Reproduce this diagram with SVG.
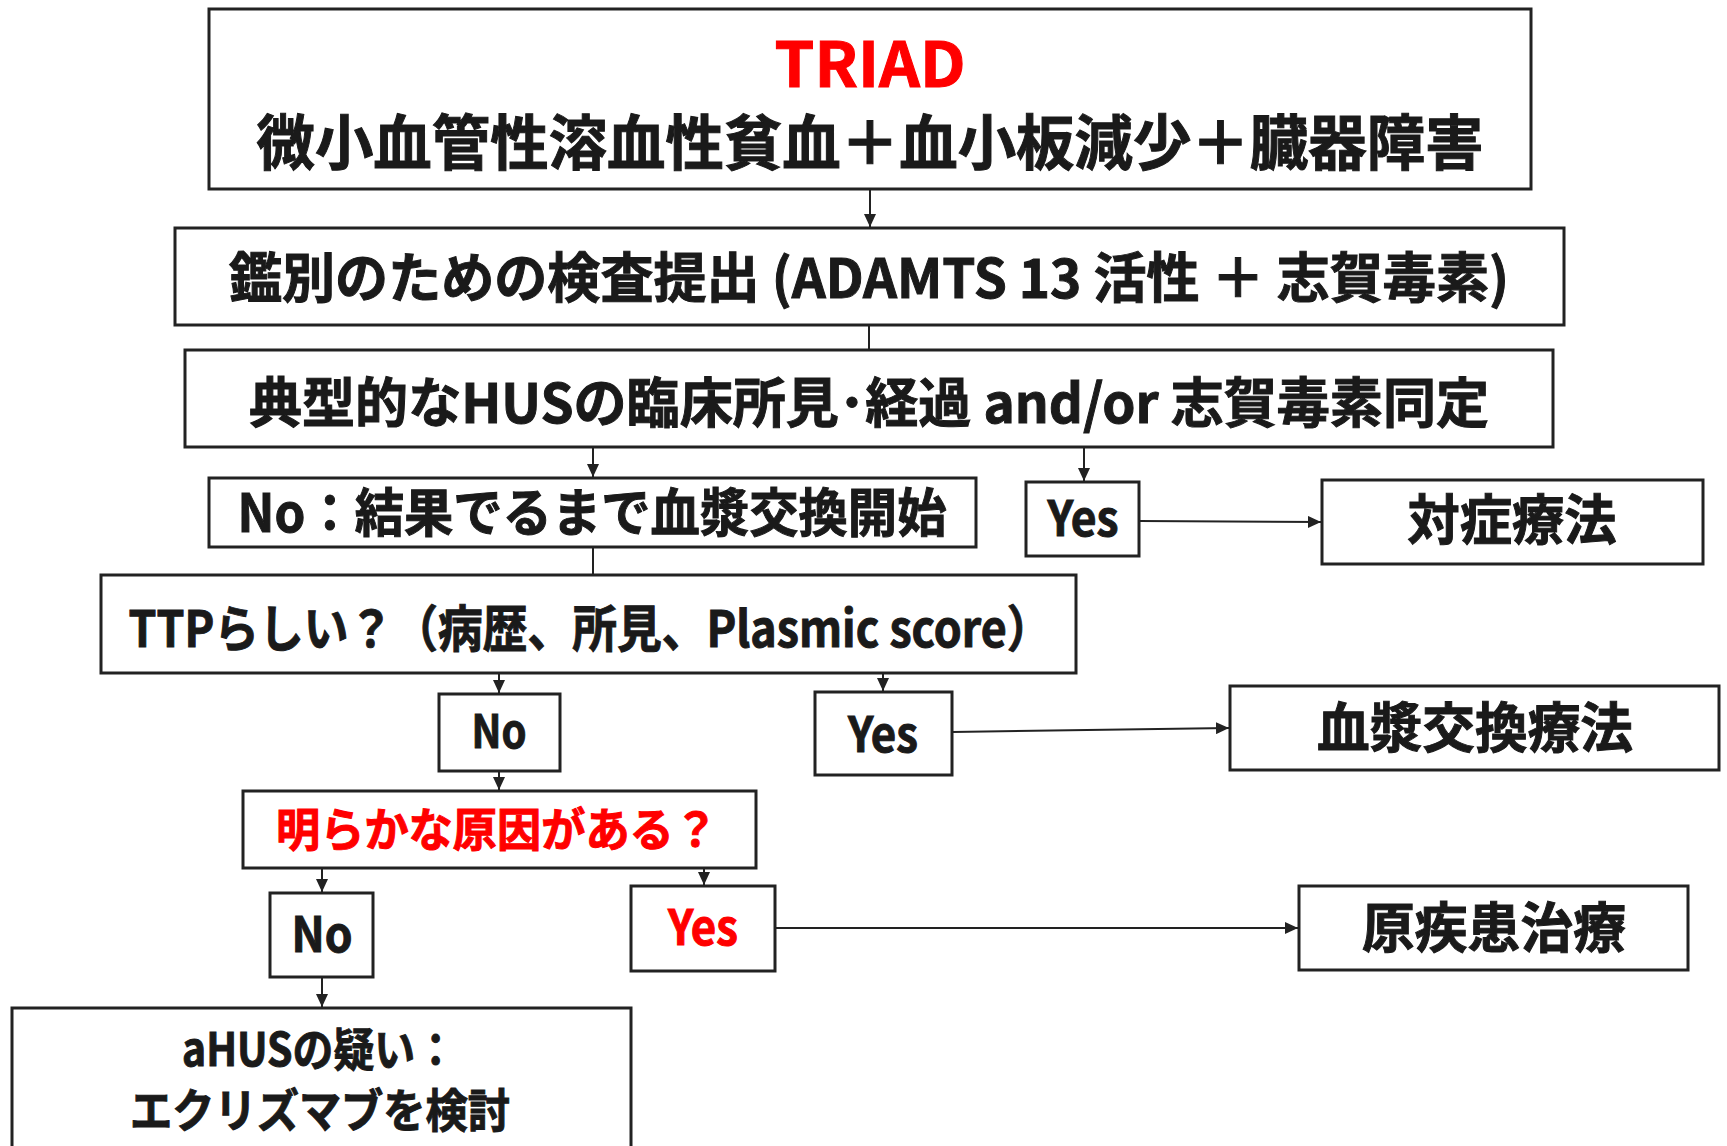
<svg xmlns="http://www.w3.org/2000/svg" width="1727" height="1146" viewBox="0 0 1727 1146">
<style>
.box{fill:#fff;stroke:#222;stroke-width:3}
.t{font-family:"Noto Sans CJK JP","Noto Sans",sans-serif;font-weight:bold;fill:#1a1a1a;stroke:#1a1a1a;stroke-width:1;text-anchor:middle;dominant-baseline:central}
.red{fill:#ff0000;stroke:#ff0000}
.c{stroke:#222;stroke-width:2;fill:none}
</style>
<defs>
<marker id="ah" markerUnits="userSpaceOnUse" markerWidth="14" markerHeight="12" refX="13" refY="6" orient="auto">
<path d="M0,0 L13,6 L0,12 z" fill="#222"/>
</marker>
</defs>
<rect width="1727" height="1146" fill="#fff"/>
<g id="connectors">
<line class="c" x1="870" y1="189" x2="870" y2="227" marker-end="url(#ah)"/>
<line class="c" x1="869" y1="325" x2="869" y2="350"/>
<line class="c" x1="593" y1="447" x2="593" y2="477" marker-end="url(#ah)"/>
<line class="c" x1="1084" y1="447" x2="1084" y2="481" marker-end="url(#ah)"/>
<line class="c" x1="1139" y1="521" x2="1321" y2="522" marker-end="url(#ah)"/>
<line class="c" x1="593" y1="547" x2="593" y2="575"/>
<line class="c" x1="499" y1="673" x2="499" y2="693" marker-end="url(#ah)"/>
<line class="c" x1="883" y1="673" x2="883" y2="691" marker-end="url(#ah)"/>
<line class="c" x1="952" y1="732" x2="1229" y2="728" marker-end="url(#ah)"/>
<line class="c" x1="499" y1="771" x2="499" y2="790" marker-end="url(#ah)"/>
<line class="c" x1="322" y1="868" x2="322" y2="892" marker-end="url(#ah)"/>
<line class="c" x1="704" y1="868" x2="704" y2="885" marker-end="url(#ah)"/>
<line class="c" x1="775" y1="928" x2="1298" y2="928" marker-end="url(#ah)"/>
<line class="c" x1="322" y1="977" x2="322" y2="1007" marker-end="url(#ah)"/>
</g>
<g id="triad">
<rect class="box" x="209" y="9" width="1322" height="180"/>
<text class="t red" x="870" y="60" font-size="62" textLength="191" lengthAdjust="spacingAndGlyphs">TRIAD</text>
<text class="t" x="870" y="138" font-size="60" textLength="1227" lengthAdjust="spacingAndGlyphs">微小血管性溶血性貧血＋血小板減少＋臓器障害</text>
</g>
<g id="test">
<rect class="box" x="175" y="228" width="1389" height="97"/>
<text class="t" x="869" y="274" font-size="54" textLength="1280" lengthAdjust="spacingAndGlyphs">鑑別のための検査提出 (ADAMTS 13 活性 ＋ 志賀毒素)</text>
</g>
<g id="typical">
<rect class="box" x="185" y="350" width="1368" height="97"/>
<text class="t" x="869" y="399" font-size="54" textLength="1240" lengthAdjust="spacingAndGlyphs">典型的なHUSの臨床所見･経過 and/or 志賀毒素同定</text>
</g>
<g id="no1">
<rect class="box" x="209" y="478" width="767" height="69"/>
<text class="t" x="592" y="509" font-size="52" textLength="709" lengthAdjust="spacingAndGlyphs">No：結果でるまで血漿交換開始</text>
</g>
<g id="yes1">
<rect class="box" x="1026" y="482" width="113" height="74"/>
<text class="t" x="1083" y="515" font-size="48" textLength="71" lengthAdjust="spacingAndGlyphs">Yes</text>
</g>
<g id="symptomatic">
<rect class="box" x="1322" y="480" width="381" height="84"/>
<text class="t" x="1512" y="516" font-size="54" textLength="209" lengthAdjust="spacingAndGlyphs">対症療法</text>
</g>
<g id="ttp">
<rect class="box" x="101" y="575" width="975" height="98"/>
<text class="t" x="590" y="625" font-size="50" textLength="923" lengthAdjust="spacingAndGlyphs">TTPらしい？（病歴、所見、Plasmic score）</text>
</g>
<g id="no2">
<rect class="box" x="439" y="694" width="121" height="77"/>
<text class="t" x="499" y="728" font-size="46" textLength="55" lengthAdjust="spacingAndGlyphs">No</text>
</g>
<g id="yes2">
<rect class="box" x="815" y="692" width="137" height="83"/>
<text class="t" x="883" y="731" font-size="48" textLength="70" lengthAdjust="spacingAndGlyphs">Yes</text>
</g>
<g id="plasma">
<rect class="box" x="1230" y="686" width="489" height="84"/>
<text class="t" x="1475" y="724" font-size="54" textLength="316" lengthAdjust="spacingAndGlyphs">血漿交換療法</text>
</g>
<g id="cause">
<rect class="box" x="243" y="791" width="513" height="77"/>
<text class="t red" x="497" y="826" font-size="46" textLength="442" lengthAdjust="spacingAndGlyphs">明らかな原因がある？</text>
</g>
<g id="no3">
<rect class="box" x="270" y="893" width="103" height="84"/>
<text class="t" x="322" y="931" font-size="48" textLength="61" lengthAdjust="spacingAndGlyphs">No</text>
</g>
<g id="yes3">
<rect class="box" x="631" y="886" width="144" height="85"/>
<text class="t red" x="703" y="924" font-size="48" textLength="70" lengthAdjust="spacingAndGlyphs">Yes</text>
</g>
<g id="primary">
<rect class="box" x="1299" y="886" width="389" height="84"/>
<text class="t" x="1494" y="924" font-size="54" textLength="264" lengthAdjust="spacingAndGlyphs">原疾患治療</text>
</g>
<g id="ahus">
<rect class="box" x="12" y="1008" width="619" height="160"/>
<text class="t" x="319" y="1046" font-size="46" textLength="274" lengthAdjust="spacingAndGlyphs">aHUSの疑い：</text>
<text class="t" x="320" y="1107" font-size="46" textLength="380" lengthAdjust="spacingAndGlyphs">エクリズマブを検討</text>
</g>
</svg>
